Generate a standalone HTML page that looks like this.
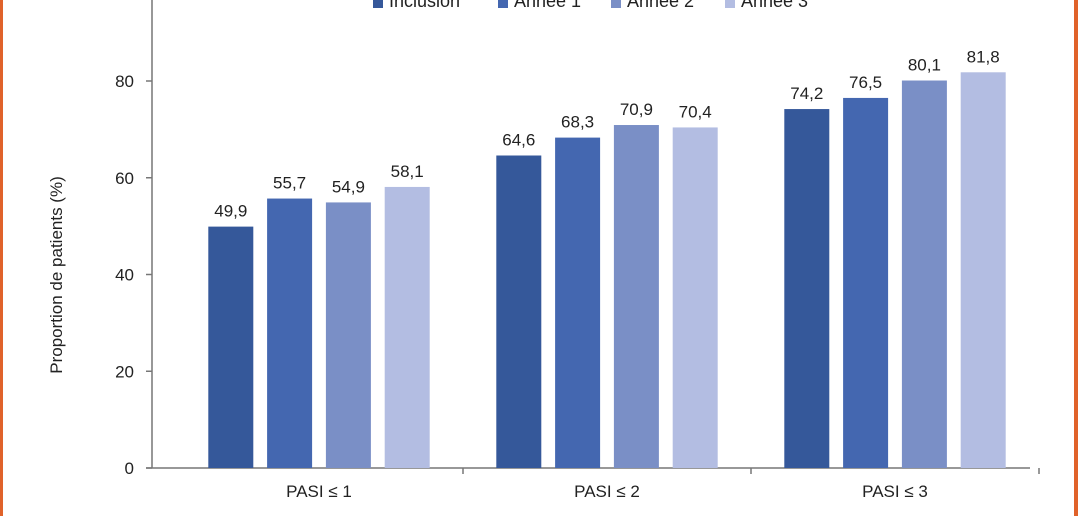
<!DOCTYPE html>
<html><head><meta charset="utf-8"><style>
html,body{margin:0;padding:0;background:#fff;}
svg{display:block;font-family:"Liberation Sans",sans-serif;}
</style></head><body>
<svg id="c" width="1078" height="516" viewBox="0 0 1078 516">
<rect x="0" y="0" width="3" height="516" fill="#e0622a"/>
<rect x="1074" y="0" width="4" height="516" fill="#e0622a"/>
<text x="62" y="275" transform="rotate(-90 62 275)" text-anchor="middle" font-size="17" fill="#222">Proportion de patients (%)</text>
<g id="legend"></g>
<g id="axes"></g>
<g id="bars"></g>
</svg>
<script>
const categories = ["PASI ≤ 1","PASI ≤ 2","PASI ≤ 3"];
const seriesNames = ["Inclusion","Année 1","Année 2","Année 3"];
const inclusion = [49.9,64.6,74.2];
const annee1 = [55.7,68.3,76.5];
const annee2 = [54.9,70.9,80.1];
const annee3 = [58.1,70.4,81.8];
const yTicks = [0,20,40,60,80];
const colors = ["#35589a","#4467b0","#7a8fc6","#b3bde2"];
const series = [inclusion,annee1,annee2,annee3];
const NS="http://www.w3.org/2000/svg";
const y0=468, yPer=(468-81)/80;
const y = v => y0 - v*yPer;
const bandStart=175, band=288;
const xc = i => bandStart + band*i + band/2;
const barW=45, barStep=58.8;
function mk(tag,attrs,parent){const e=document.createElementNS(NS,tag);for(const k in attrs)e.setAttribute(k,attrs[k]);parent.appendChild(e);return e;}
const axes=document.getElementById('axes'), bars=document.getElementById('bars'), legend=document.getElementById('legend');
let l=mk('line',{x1:152,y1:0,x2:152,y2:y0,stroke:'#777','stroke-width':1.5},axes);


l=mk('line',{x1:146,y1:y0,x2:1030,y2:y0,stroke:'#777','stroke-width':1.5},axes);


yTicks.forEach(t=>{
  const tk=mk('line',{x1:146,y1:y(t),x2:152,y2:y(t),stroke:'#777','stroke-width':1.5},axes);
  
  
  const tx=mk('text',{x:134,y:y(t)+6,'text-anchor':'end','font-size':17,fill:'#222'},axes);
  tx.textContent=t;
  
  
});
categories.forEach((c,i)=>{
  const tk=mk('line',{x1:xc(i)+band/2,y1:y0,x2:xc(i)+band/2,y2:y0+6,stroke:'#777','stroke-width':1.5},axes);
  
  
  const tx=mk('text',{x:xc(i),y:497,'text-anchor':'middle','font-size':17,fill:'#222'},axes);
  tx.textContent=c;
  
  
  series.forEach((s,j)=>{
    const cx=xc(i)+(j-1.5)*barStep;
    const r=mk('rect',{x:cx-barW/2,y:y(s[i]),width:barW,height:y0-y(s[i]),fill:colors[j]},bars);
    
    
    const t=mk('text',{x:cx,y:y(s[i])-10,'text-anchor':'middle','font-size':17,fill:'#222'},bars);
    t.textContent=s[i].toFixed(1).replace('.',',');
    
    
  });
});
const legX=[373,498,611,725];
seriesNames.forEach((n,j)=>{
  const g=mk('g',{},legend);
  
  
  mk('rect',{x:legX[j],y:-2,width:10,height:10,fill:colors[j]},g);
  const t=mk('text',{x:legX[j]+16,y:7,'font-size':18,fill:'#222'},g);
  t.textContent=n;
});
</script>
</body></html>
